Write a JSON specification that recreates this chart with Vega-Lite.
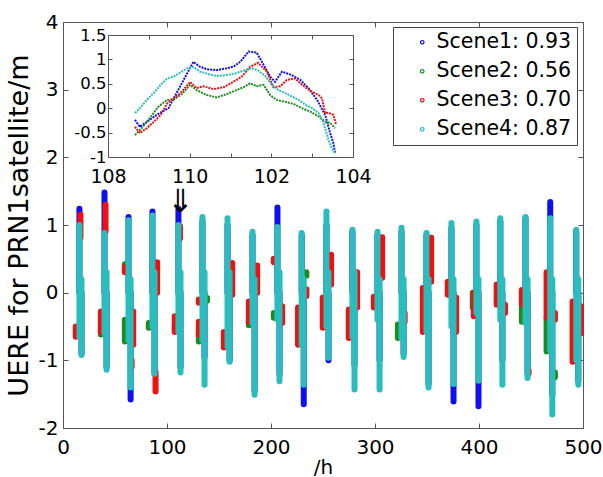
{
  "$schema": "https://vega.github.io/schema/vega-lite/v6.json",
  "width": 520,
  "height": 406,
  "autosize": {"type": "none"},
  "padding": {"left": 63, "top": 22, "right": 20, "bottom": 49},
  "config": {
    "font": "DejaVu Sans",
    "view": {"stroke": null},
    "axis": {"grid": false, "domainColor": "#555", "tickColor": "#555", "labelColor": "#000", "titleColor": "#000", "labelFont": "DejaVu Sans", "titleFont": "DejaVu Sans", "titleFontWeight": "normal", "labelFlush": false}
  },
  "datasets": {
    "bands": [
      {"s": "Scene1: 0.93", "x": 15.8, "y": 0, "y2": 1.24},
      {"s": "Scene1: 0.93", "x": 17.8, "y": -0.9, "y2": 0},
      {"s": "Scene1: 0.93", "x": 39.9, "y": 0, "y2": 1.48},
      {"s": "Scene1: 0.93", "x": 41.9, "y": -1.1, "y2": 0},
      {"s": "Scene1: 0.93", "x": 63, "y": 0, "y2": 1.12},
      {"s": "Scene1: 0.93", "x": 65, "y": -1.58, "y2": 0},
      {"s": "Scene1: 0.93", "x": 86, "y": 0, "y2": 1.2},
      {"s": "Scene1: 0.93", "x": 88, "y": -1.2, "y2": 0},
      {"s": "Scene1: 0.93", "x": 111, "y": 0, "y2": 1.24},
      {"s": "Scene1: 0.93", "x": 113, "y": -1.1, "y2": 0},
      {"s": "Scene1: 0.93", "x": 134.1, "y": 0, "y2": 1.05},
      {"s": "Scene1: 0.93", "x": 136.1, "y": -0.95, "y2": 0},
      {"s": "Scene1: 0.93", "x": 158.2, "y": 0, "y2": 1.0},
      {"s": "Scene1: 0.93", "x": 160.2, "y": -1.0, "y2": 0},
      {"s": "Scene1: 0.93", "x": 182.2, "y": 0, "y2": 0.85},
      {"s": "Scene1: 0.93", "x": 184.2, "y": -1.45, "y2": 0},
      {"s": "Scene1: 0.93", "x": 206.2, "y": 0, "y2": 1.26},
      {"s": "Scene1: 0.93", "x": 208.2, "y": -1.2, "y2": 0},
      {"s": "Scene1: 0.93", "x": 229.5, "y": 0, "y2": 0.85},
      {"s": "Scene1: 0.93", "x": 231.5, "y": -1.65, "y2": 0},
      {"s": "Scene1: 0.93", "x": 253.3, "y": 0, "y2": 1.0},
      {"s": "Scene1: 0.93", "x": 255.3, "y": -1.0, "y2": 0},
      {"s": "Scene1: 0.93", "x": 278.3, "y": 0, "y2": 0.9},
      {"s": "Scene1: 0.93", "x": 280.3, "y": -1.07, "y2": 0},
      {"s": "Scene1: 0.93", "x": 302.4, "y": 0, "y2": 0.85},
      {"s": "Scene1: 0.93", "x": 304.4, "y": -1.0, "y2": 0},
      {"s": "Scene1: 0.93", "x": 325.5, "y": 0, "y2": 0.9},
      {"s": "Scene1: 0.93", "x": 327.5, "y": -0.9, "y2": 0},
      {"s": "Scene1: 0.93", "x": 349.5, "y": 0, "y2": 0.85},
      {"s": "Scene1: 0.93", "x": 351.5, "y": -1.35, "y2": 0},
      {"s": "Scene1: 0.93", "x": 373.5, "y": 0, "y2": 0.95},
      {"s": "Scene1: 0.93", "x": 375.5, "y": -1.61, "y2": 0},
      {"s": "Scene1: 0.93", "x": 397.5, "y": 0, "y2": 1.0},
      {"s": "Scene1: 0.93", "x": 399.5, "y": -1.68, "y2": 0},
      {"s": "Scene1: 0.93", "x": 420.5, "y": 0, "y2": 1.05},
      {"s": "Scene1: 0.93", "x": 422.5, "y": -1.0, "y2": 0},
      {"s": "Scene1: 0.93", "x": 444.7, "y": 0, "y2": 1.1},
      {"s": "Scene1: 0.93", "x": 446.7, "y": -1.2, "y2": 0},
      {"s": "Scene1: 0.93", "x": 468.5, "y": 0, "y2": 1.34},
      {"s": "Scene1: 0.93", "x": 470.5, "y": -1.5, "y2": 0},
      {"s": "Scene1: 0.93", "x": 493.5, "y": 0, "y2": 0.9},
      {"s": "Scene1: 0.93", "x": 495.5, "y": -1.3, "y2": 0},

      {"s": "Scene2: 0.56", "x": 36.4, "y": -0.62, "y2": -0.55},
      {"s": "Scene2: 0.56", "x": 59.5, "y": -0.72, "y2": -0.4},
      {"s": "Scene2: 0.56", "x": 59.5, "y": 0.35, "y2": 0.42},
      {"s": "Scene2: 0.56", "x": 82.5, "y": -0.52, "y2": -0.45},
      {"s": "Scene2: 0.56", "x": 107.5, "y": -0.56, "y2": -0.5},
      {"s": "Scene2: 0.56", "x": 130.6, "y": -0.72, "y2": -0.6},
      {"s": "Scene2: 0.56", "x": 138.6, "y": -0.12, "y2": -0.08},
      {"s": "Scene2: 0.56", "x": 178.7, "y": -0.48, "y2": -0.42},
      {"s": "Scene2: 0.56", "x": 202.7, "y": -0.37, "y2": -0.3},
      {"s": "Scene2: 0.56", "x": 234, "y": 0.25, "y2": 0.3},
      {"s": "Scene2: 0.56", "x": 322, "y": -0.67, "y2": -0.47},
      {"s": "Scene2: 0.56", "x": 394, "y": -0.22, "y2": 0},
      {"s": "Scene2: 0.56", "x": 441.2, "y": -0.43, "y2": -0.22},
      {"s": "Scene2: 0.56", "x": 465, "y": -0.87, "y2": -0.37},
      {"s": "Scene2: 0.56", "x": 473, "y": -1.25, "y2": -1.18},

      {"s": "Scene3: 0.70", "x": 16.8, "y": 0.81, "y2": 1.15},
      {"s": "Scene3: 0.70", "x": 12.3, "y": -0.65, "y2": -0.5},
      {"s": "Scene3: 0.70", "x": 40.9, "y": 0.9, "y2": 1.3},
      {"s": "Scene3: 0.70", "x": 36.4, "y": -0.58, "y2": -0.28},
      {"s": "Scene3: 0.70", "x": 67.5, "y": -0.77, "y2": -0.28},
      {"s": "Scene3: 0.70", "x": 66, "y": -1.1, "y2": -1.0},
      {"s": "Scene3: 0.70", "x": 59.5, "y": 0.3, "y2": 0.38},
      {"s": "Scene3: 0.70", "x": 89, "y": -1.46, "y2": -1.17},
      {"s": "Scene3: 0.70", "x": 90.5, "y": 0, "y2": 0.45},
      {"s": "Scene3: 0.70", "x": 112.5, "y": 0.8, "y2": 0.98},
      {"s": "Scene3: 0.70", "x": 107.5, "y": -0.58, "y2": -0.35},
      {"s": "Scene3: 0.70", "x": 130.6, "y": -0.62, "y2": -0.43},
      {"s": "Scene3: 0.70", "x": 130.6, "y": -0.15, "y2": -0.1},
      {"s": "Scene3: 0.70", "x": 162.7, "y": -0.03, "y2": 0.44},
      {"s": "Scene3: 0.70", "x": 154.7, "y": -0.81, "y2": -0.58},
      {"s": "Scene3: 0.70", "x": 178.7, "y": -0.43, "y2": -0.13},
      {"s": "Scene3: 0.70", "x": 186.7, "y": 0, "y2": 0.4},
      {"s": "Scene3: 0.70", "x": 202.7, "y": 0.45, "y2": 0.5},
      {"s": "Scene3: 0.70", "x": 210.7, "y": -0.45, "y2": -0.2},
      {"s": "Scene3: 0.70", "x": 226, "y": -0.77, "y2": -0.22},
      {"s": "Scene3: 0.70", "x": 234, "y": -0.05, "y2": 0.05},
      {"s": "Scene3: 0.70", "x": 249.8, "y": -0.52, "y2": -0.07},
      {"s": "Scene3: 0.70", "x": 257.8, "y": 0.12, "y2": 0.56},
      {"s": "Scene3: 0.70", "x": 274.8, "y": -0.67, "y2": -0.25},
      {"s": "Scene3: 0.70", "x": 282.8, "y": -0.22, "y2": 0.3},
      {"s": "Scene3: 0.70", "x": 298.9, "y": -0.22, "y2": -0.06},
      {"s": "Scene3: 0.70", "x": 306.9, "y": 0.22, "y2": 0.82},
      {"s": "Scene3: 0.70", "x": 328.5, "y": -0.43, "y2": -0.3},
      {"s": "Scene3: 0.70", "x": 346, "y": -0.58, "y2": 0.07},
      {"s": "Scene3: 0.70", "x": 354, "y": 0.16, "y2": 0.81},
      {"s": "Scene3: 0.70", "x": 370, "y": -0.03, "y2": 0.16},
      {"s": "Scene3: 0.70", "x": 378, "y": -0.58, "y2": -0.07},
      {"s": "Scene3: 0.70", "x": 395, "y": -0.35, "y2": 0},
      {"s": "Scene3: 0.70", "x": 417, "y": -0.18, "y2": 0.12},
      {"s": "Scene3: 0.70", "x": 425, "y": -0.3, "y2": -0.18},
      {"s": "Scene3: 0.70", "x": 441.2, "y": -0.18, "y2": 0.04},
      {"s": "Scene3: 0.70", "x": 447.7, "y": -1.2, "y2": -1.15},
      {"s": "Scene3: 0.70", "x": 465, "y": -0.37, "y2": 0.3},
      {"s": "Scene3: 0.70", "x": 473, "y": -0.4, "y2": -0.3},
      {"s": "Scene3: 0.70", "x": 490, "y": -1.02, "y2": -0.13},
      {"s": "Scene3: 0.70", "x": 498, "y": -0.6, "y2": -0.2},

      {"s": "Scene4: 0.87", "x": 15.8, "y": -0.65, "y2": 1.0},
      {"s": "Scene4: 0.87", "x": 17.8, "y": -0.92, "y2": 0.2},
      {"s": "Scene4: 0.87", "x": 39.9, "y": -0.6, "y2": 0.88},
      {"s": "Scene4: 0.87", "x": 41.9, "y": -1.14, "y2": 0.3},
      {"s": "Scene4: 0.87", "x": 63, "y": -0.7, "y2": 1.07},
      {"s": "Scene4: 0.87", "x": 65, "y": -1.4, "y2": 0.2},
      {"s": "Scene4: 0.87", "x": 86, "y": -0.5, "y2": 1.14},
      {"s": "Scene4: 0.87", "x": 88, "y": -1.2, "y2": 0.3},
      {"s": "Scene4: 0.87", "x": 111, "y": -0.58, "y2": 1.0},
      {"s": "Scene4: 0.87", "x": 113, "y": -1.18, "y2": 0.3},
      {"s": "Scene4: 0.87", "x": 134.1, "y": -0.7, "y2": 1.12},
      {"s": "Scene4: 0.87", "x": 136.1, "y": -1.36, "y2": 0.3},
      {"s": "Scene4: 0.87", "x": 158.2, "y": -0.8, "y2": 1.1},
      {"s": "Scene4: 0.87", "x": 160.2, "y": -1.02, "y2": 0.3},
      {"s": "Scene4: 0.87", "x": 182.2, "y": -0.45, "y2": 0.9},
      {"s": "Scene4: 0.87", "x": 184.2, "y": -1.51, "y2": 0.2},
      {"s": "Scene4: 0.87", "x": 206.2, "y": -0.4, "y2": 0.97},
      {"s": "Scene4: 0.87", "x": 208.2, "y": -1.31, "y2": 0.3},
      {"s": "Scene4: 0.87", "x": 229.5, "y": -0.77, "y2": 0.88},
      {"s": "Scene4: 0.87", "x": 231.5, "y": -1.36, "y2": 0.2},
      {"s": "Scene4: 0.87", "x": 253.3, "y": -0.5, "y2": 1.2},
      {"s": "Scene4: 0.87", "x": 255.3, "y": -0.96, "y2": 0.3},
      {"s": "Scene4: 0.87", "x": 278.3, "y": -0.65, "y2": 0.93},
      {"s": "Scene4: 0.87", "x": 280.3, "y": -1.43, "y2": 0.3},
      {"s": "Scene4: 0.87", "x": 302.4, "y": -0.4, "y2": 0.9},
      {"s": "Scene4: 0.87", "x": 304.4, "y": -1.43, "y2": 0.2},
      {"s": "Scene4: 0.87", "x": 325.5, "y": -0.67, "y2": 0.96},
      {"s": "Scene4: 0.87", "x": 327.5, "y": -0.95, "y2": 0.2},
      {"s": "Scene4: 0.87", "x": 349.5, "y": -0.58, "y2": 0.88},
      {"s": "Scene4: 0.87", "x": 351.5, "y": -1.4, "y2": 0.2},
      {"s": "Scene4: 0.87", "x": 373.5, "y": -0.5, "y2": 1.03},
      {"s": "Scene4: 0.87", "x": 375.5, "y": -1.35, "y2": 0.2},
      {"s": "Scene4: 0.87", "x": 397.5, "y": -0.3, "y2": 1.05},
      {"s": "Scene4: 0.87", "x": 399.5, "y": -1.3, "y2": 0.2},
      {"s": "Scene4: 0.87", "x": 420.5, "y": -0.4, "y2": 1.1},
      {"s": "Scene4: 0.87", "x": 422.5, "y": -1.36, "y2": 0.2},
      {"s": "Scene4: 0.87", "x": 444.7, "y": -0.45, "y2": 1.12},
      {"s": "Scene4: 0.87", "x": 446.7, "y": -1.26, "y2": 0.2},
      {"s": "Scene4: 0.87", "x": 468.5, "y": -0.85, "y2": 1.1},
      {"s": "Scene4: 0.87", "x": 470.5, "y": -1.8, "y2": 0.2},
      {"s": "Scene4: 0.87", "x": 493.5, "y": -1.0, "y2": 0.93},
      {"s": "Scene4: 0.87", "x": 495.5, "y": -1.36, "y2": 0.2}
    ],
    "inset": [
      {"s": "Scene1: 0.93", "h": 108.66, "v": -0.24},
      {"s": "Scene1: 0.93", "h": 108.78, "v": -0.38},
      {"s": "Scene1: 0.93", "h": 108.95, "v": -0.28},
      {"s": "Scene1: 0.93", "h": 109.19, "v": -0.14},
      {"s": "Scene1: 0.93", "h": 109.48, "v": 0.0},
      {"s": "Scene1: 0.93", "h": 110.09, "v": 0.95},
      {"s": "Scene1: 0.93", "h": 110.25, "v": 0.85},
      {"s": "Scene1: 0.93", "h": 110.42, "v": 0.8},
      {"s": "Scene1: 0.93", "h": 110.66, "v": 0.78},
      {"s": "Scene1: 0.93", "h": 110.91, "v": 0.82},
      {"s": "Scene1: 0.93", "h": 111.07, "v": 0.85},
      {"s": "Scene1: 0.93", "h": 111.24, "v": 0.95},
      {"s": "Scene1: 0.93", "h": 111.44, "v": 1.16},
      {"s": "Scene1: 0.93", "h": 111.64, "v": 1.14},
      {"s": "Scene1: 0.93", "h": 111.77, "v": 0.95},
      {"s": "Scene1: 0.93", "h": 111.97, "v": 0.65},
      {"s": "Scene1: 0.93", "h": 112.09, "v": 0.54},
      {"s": "Scene1: 0.93", "h": 112.26, "v": 0.75},
      {"s": "Scene1: 0.93", "h": 112.5, "v": 0.68},
      {"s": "Scene1: 0.93", "h": 112.71, "v": 0.58},
      {"s": "Scene1: 0.93", "h": 112.91, "v": 0.41},
      {"s": "Scene1: 0.93", "h": 113.12, "v": 0.17},
      {"s": "Scene1: 0.93", "h": 113.32, "v": -0.14},
      {"s": "Scene1: 0.93", "h": 113.44, "v": -0.51},
      {"s": "Scene1: 0.93", "h": 113.52, "v": -0.72},
      {"s": "Scene1: 0.93", "h": 113.56, "v": -0.92},
      {"s": "Scene2: 0.56", "h": 108.66, "v": -0.55},
      {"s": "Scene2: 0.56", "h": 108.82, "v": -0.41},
      {"s": "Scene2: 0.56", "h": 109.02, "v": -0.21},
      {"s": "Scene2: 0.56", "h": 109.23, "v": 0.03},
      {"s": "Scene2: 0.56", "h": 109.45, "v": 0.17},
      {"s": "Scene2: 0.56", "h": 109.61, "v": 0.18},
      {"s": "Scene2: 0.56", "h": 109.81, "v": 0.29},
      {"s": "Scene2: 0.56", "h": 110.01, "v": 0.48},
      {"s": "Scene2: 0.56", "h": 110.17, "v": 0.37},
      {"s": "Scene2: 0.56", "h": 110.42, "v": 0.27},
      {"s": "Scene2: 0.56", "h": 110.66, "v": 0.22},
      {"s": "Scene2: 0.56", "h": 110.91, "v": 0.29},
      {"s": "Scene2: 0.56", "h": 111.11, "v": 0.36},
      {"s": "Scene2: 0.56", "h": 111.32, "v": 0.43},
      {"s": "Scene2: 0.56", "h": 111.48, "v": 0.51},
      {"s": "Scene2: 0.56", "h": 111.64, "v": 0.45},
      {"s": "Scene2: 0.56", "h": 111.81, "v": 0.48},
      {"s": "Scene2: 0.56", "h": 111.97, "v": 0.27},
      {"s": "Scene2: 0.56", "h": 112.13, "v": 0.17},
      {"s": "Scene2: 0.56", "h": 112.34, "v": 0.13},
      {"s": "Scene2: 0.56", "h": 112.54, "v": 0.09},
      {"s": "Scene2: 0.56", "h": 112.75, "v": 0.0},
      {"s": "Scene2: 0.56", "h": 112.95, "v": -0.07},
      {"s": "Scene2: 0.56", "h": 113.16, "v": -0.17},
      {"s": "Scene2: 0.56", "h": 113.32, "v": -0.28},
      {"s": "Scene2: 0.56", "h": 113.44, "v": -0.3},
      {"s": "Scene2: 0.56", "h": 113.56, "v": -0.41},
      {"s": "Scene3: 0.70", "h": 108.66, "v": -0.38},
      {"s": "Scene3: 0.70", "h": 108.78, "v": -0.51},
      {"s": "Scene3: 0.70", "h": 108.95, "v": -0.41},
      {"s": "Scene3: 0.70", "h": 109.12, "v": -0.28},
      {"s": "Scene3: 0.70", "h": 109.29, "v": -0.14},
      {"s": "Scene3: 0.70", "h": 109.45, "v": 0.1},
      {"s": "Scene3: 0.70", "h": 109.61, "v": 0.2},
      {"s": "Scene3: 0.70", "h": 109.81, "v": 0.34},
      {"s": "Scene3: 0.70", "h": 110.01, "v": 0.54},
      {"s": "Scene3: 0.70", "h": 110.17, "v": 0.41},
      {"s": "Scene3: 0.70", "h": 110.34, "v": 0.45},
      {"s": "Scene3: 0.70", "h": 110.58, "v": 0.39},
      {"s": "Scene3: 0.70", "h": 110.83, "v": 0.43},
      {"s": "Scene3: 0.70", "h": 111.07, "v": 0.54},
      {"s": "Scene3: 0.70", "h": 111.28, "v": 0.65},
      {"s": "Scene3: 0.70", "h": 111.48, "v": 0.85},
      {"s": "Scene3: 0.70", "h": 111.68, "v": 0.93},
      {"s": "Scene3: 0.70", "h": 111.89, "v": 0.75},
      {"s": "Scene3: 0.70", "h": 112.05, "v": 0.43},
      {"s": "Scene3: 0.70", "h": 112.22, "v": 0.45},
      {"s": "Scene3: 0.70", "h": 112.38, "v": 0.58},
      {"s": "Scene3: 0.70", "h": 112.58, "v": 0.61},
      {"s": "Scene3: 0.70", "h": 112.75, "v": 0.48},
      {"s": "Scene3: 0.70", "h": 112.95, "v": 0.36},
      {"s": "Scene3: 0.70", "h": 113.16, "v": 0.27},
      {"s": "Scene3: 0.70", "h": 113.24, "v": 0.2},
      {"s": "Scene3: 0.70", "h": 113.32, "v": -0.1},
      {"s": "Scene3: 0.70", "h": 113.4, "v": -0.09},
      {"s": "Scene3: 0.70", "h": 113.52, "v": -0.14},
      {"s": "Scene3: 0.70", "h": 113.59, "v": -0.34},
      {"s": "Scene4: 0.87", "h": 108.66, "v": -0.1},
      {"s": "Scene4: 0.87", "h": 108.78, "v": 0.0},
      {"s": "Scene4: 0.87", "h": 108.95, "v": 0.17},
      {"s": "Scene4: 0.87", "h": 109.12, "v": 0.31},
      {"s": "Scene4: 0.87", "h": 109.29, "v": 0.48},
      {"s": "Scene4: 0.87", "h": 109.45, "v": 0.61},
      {"s": "Scene4: 0.87", "h": 109.61, "v": 0.65},
      {"s": "Scene4: 0.87", "h": 109.77, "v": 0.73},
      {"s": "Scene4: 0.87", "h": 109.94, "v": 0.82},
      {"s": "Scene4: 0.87", "h": 110.08, "v": 0.85},
      {"s": "Scene4: 0.87", "h": 110.25, "v": 0.75},
      {"s": "Scene4: 0.87", "h": 110.46, "v": 0.7},
      {"s": "Scene4: 0.87", "h": 110.66, "v": 0.66},
      {"s": "Scene4: 0.87", "h": 110.91, "v": 0.68},
      {"s": "Scene4: 0.87", "h": 111.11, "v": 0.71},
      {"s": "Scene4: 0.87", "h": 111.32, "v": 0.77},
      {"s": "Scene4: 0.87", "h": 111.52, "v": 0.82},
      {"s": "Scene4: 0.87", "h": 111.68, "v": 0.77},
      {"s": "Scene4: 0.87", "h": 111.85, "v": 0.66},
      {"s": "Scene4: 0.87", "h": 112.01, "v": 0.48},
      {"s": "Scene4: 0.87", "h": 112.18, "v": 0.37},
      {"s": "Scene4: 0.87", "h": 112.34, "v": 0.31},
      {"s": "Scene4: 0.87", "h": 112.5, "v": 0.24},
      {"s": "Scene4: 0.87", "h": 112.67, "v": 0.17},
      {"s": "Scene4: 0.87", "h": 112.83, "v": 0.07},
      {"s": "Scene4: 0.87", "h": 113.0, "v": 0.0},
      {"s": "Scene4: 0.87", "h": 113.16, "v": -0.1},
      {"s": "Scene4: 0.87", "h": 113.28, "v": -0.31},
      {"s": "Scene4: 0.87", "h": 113.4, "v": -0.65},
      {"s": "Scene4: 0.87", "h": 113.48, "v": -0.82},
      {"s": "Scene4: 0.87", "h": 113.56, "v": -0.92}
    ],
    "arrow": [{"x": 113, "y": 1.34}]
  },
  "layer": [
    {
      "data": {"name": "bands"},
      "mark": {"type": "rule", "strokeWidth": 6, "strokeCap": "round"},
      "encoding": {
        "x": {"field": "x", "type": "quantitative", "scale": {"domain": [0, 500], "nice": false},
          "axis": {"orient": "bottom", "values": [0, 100, 200, 300, 400, 500], "tickSize": -5, "labelPadding": 14, "labelFontSize": 20, "title": "/h", "titleFontSize": 20, "titlePadding": 0}},
        "y": {"field": "y", "type": "quantitative", "scale": {"domain": [-2, 4], "nice": false, "zero": false},
          "axis": {"orient": "left", "values": [-2, -1, 0, 1, 2, 3, 4], "labelExpr": "datum.value + ''", "tickSize": -5, "labelPadding": 10, "labelFontSize": 20, "title": "UERE for PRN1satellite/m", "titleFontSize": 27, "titlePadding": 5}},
        "y2": {"field": "y2"},
        "color": {"field": "s", "type": "nominal",
          "scale": {"domain": ["Scene1: 0.93", "Scene2: 0.56", "Scene3: 0.70", "Scene4: 0.87"], "range": ["#1010ee", "#1f8a1f", "#f01010", "#2bbcbc"]},
          "legend": {"title": null, "orient": "none", "legendX": 330, "legendY": 5, "strokeColor": "#444", "fillColor": "white", "padding": 5, "labelFontSize": 20.5, "labelFont": "DejaVu Sans", "symbolType": "circle", "symbolSize": 12, "symbolStrokeWidth": 1.2, "symbolFillColor": "transparent", "symbolOffset": 14, "labelOffset": 4, "rowPadding": 8}}
      }
    },
    {
      "data": {"name": "arrow"},
      "mark": {"type": "text", "text": "⇓", "fontSize": 32, "font": "DejaVu Sans", "color": "#000", "baseline": "middle"},
      "encoding": {
        "x": {"field": "x", "type": "quantitative", "scale": {"domain": [0, 500], "nice": false},
          "axis": {"orient": "top", "values": [0, 100, 200, 300, 400, 500], "labels": false, "tickSize": -5, "title": null}},
        "y": {"field": "y", "type": "quantitative", "scale": {"domain": [-2, 4], "nice": false, "zero": false},
          "axis": {"orient": "right", "values": [-2, -1, 0, 1, 2, 3, 4], "labels": false, "tickSize": -5, "title": null}}
      }
    },
    {
      "data": {"name": "inset"},
      "mark": {"type": "line", "strokeWidth": 2, "strokeDash": [2, 1]},
      "encoding": {
        "x": {"field": "h", "type": "quantitative", "scale": {"domain": [108, 114], "range": [45, 290], "nice": false, "zero": false},
          "axis": {"orient": "bottom", "offset": -271, "values": [108, 109, 110, 111, 112, 113, 114], "labelExpr": "datum.value == 108 ? '108' : datum.value == 110 ? '110' : datum.value == 112 ? '102' : datum.value == 114 ? '104' : ''", "tickSize": -4, "labelPadding": 14, "labelFontSize": 19, "title": null}},
        "y": {"field": "v", "type": "quantitative", "scale": {"domain": [-1, 1.5], "range": [135, 13], "nice": false, "zero": false},
          "axis": {"orient": "left", "offset": -45, "values": [-1, -0.5, 0, 0.5, 1, 1.5], "labelExpr": "datum.value + ''", "tickSize": -4, "labelPadding": 6, "labelFontSize": 16.5, "title": null}},
        "color": {"field": "s", "type": "nominal"}
      }
    },
    {
      "data": {"name": "inset"},
      "mark": {"type": "point", "opacity": 0},
      "encoding": {
        "x": {"field": "h", "type": "quantitative", "scale": {"domain": [108, 114], "range": [45, 290], "nice": false, "zero": false},
          "axis": {"orient": "top", "offset": -13, "values": [108, 109, 110, 111, 112, 113, 114], "labels": false, "tickSize": -4, "title": null}},
        "y": {"field": "v", "type": "quantitative", "scale": {"domain": [-1, 1.5], "range": [135, 13], "nice": false, "zero": false},
          "axis": {"orient": "right", "offset": -230, "values": [-1, -0.5, 0, 0.5, 1, 1.5], "labels": false, "tickSize": -4, "title": null}}
      }
    }
  ],
  "resolve": {"scale": {"x": "independent", "y": "independent"}, "axis": {"x": "independent", "y": "independent"}}
}
